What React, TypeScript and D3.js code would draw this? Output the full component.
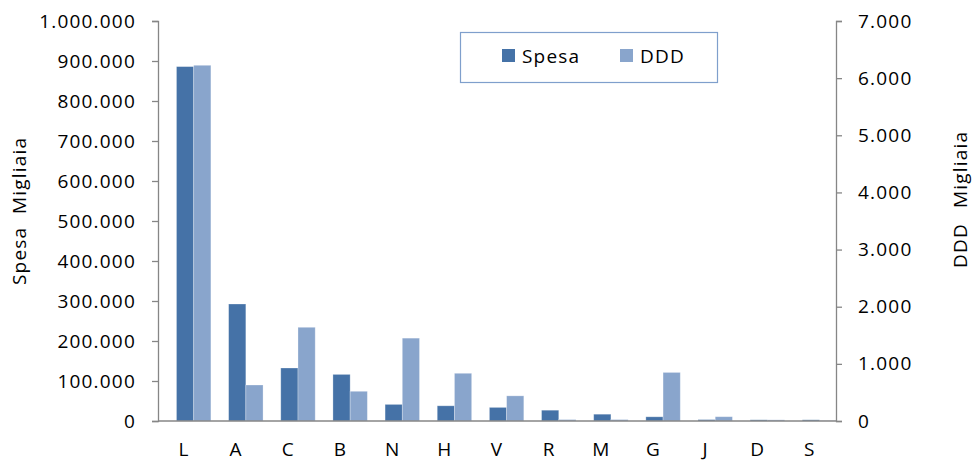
import { useEffect, useRef } from "react";
import * as d3 from "d3";

// categorie (classi ATC) e valori in migliaia
const categories = ["L", "A", "C", "B", "N", "H", "V", "R", "M", "G", "J", "D", "S"];
const spesa = [886000, 292500, 132500, 116500, 41500, 38000, 34000, 27000, 17000, 10500, 3500, 3000, 3000];
const ddd = [6225, 630, 1640, 520, 1450, 835, 440, 25, 25, 850, 75, 20, 5];
const leftTicks = d3.range(0, 1000001, 100000);
const rightTicks = d3.range(0, 7001, 1000);
const seriesNames = ["Spesa", "DDD"];

const COL_SPESA = "#4572A7";
const COL_DDD = "#89A5CC";
const AXIS = "#868686";
const FONT = "'Open Sans', sans-serif";
const FS = "19px";
const LS = "1.2px";

export default function App() {
  const ref = useRef<SVGSVGElement | null>(null);

  useEffect(() => {
    if (!ref.current) return;
    const svg = d3.select(ref.current);
    svg.selectAll("*").remove();

    const width = 973;
    const height = 462;
    const margin = { top: 21, right: 137, bottom: 41, left: 158 };

    const it = d3.formatLocale({ decimal: ",", thousands: ".", grouping: [3], currency: ["", ""] });
    const fmt = it.format(",.0f");

    const x = d3.scaleBand<string>()
      .domain(categories)
      .range([margin.left, width - margin.right]);

    const yL = d3.scaleLinear()
      .domain([0, 1000000])
      .range([height - margin.bottom, margin.top]);

    const yR = d3.scaleLinear()
      .domain([0, 7000])
      .range([height - margin.bottom, margin.top]);

    const bw = x.bandwidth() * 0.33;
    const base = height - margin.bottom;

    const txt = (sel: any) =>
      sel.style("font-family", FONT).style("font-size", FS).style("letter-spacing", LS).attr("fill", "#000");

    // barre Spesa (asse sinistro)
    svg.append("g")
      .selectAll("rect")
      .data(spesa)
      .join("rect")
      .attr("x", (_, i) => x(categories[i])! + x.bandwidth() / 2 - bw / 2 + 1)
      .attr("y", d => yL(d))
      .attr("width", bw)
      .attr("height", d => base - yL(d))
      .attr("fill", COL_SPESA)
      .attr("stroke", "#ffffff")
      .attr("stroke-opacity", 0.35)
      .attr("stroke-width", 0.8);

    // barre DDD (asse destro)
    svg.append("g")
      .selectAll("rect")
      .data(ddd)
      .join("rect")
      .attr("x", (_, i) => x(categories[i])! + x.bandwidth() / 2 + bw / 2 + 1)
      .attr("y", d => yR(d))
      .attr("width", bw)
      .attr("height", d => base - yR(d))
      .attr("fill", COL_DDD)
      .attr("stroke", "#ffffff")
      .attr("stroke-opacity", 0.35)
      .attr("stroke-width", 0.8);

    // asse sinistro
    const gl = svg.append("g")
      .attr("transform", `translate(${margin.left},0)`)
      .call(d3.axisLeft(yL).tickValues(leftTicks).tickFormat(d => fmt(d as number)).tickSize(6).tickPadding(16));
    // asse destro
    const gr = svg.append("g")
      .attr("transform", `translate(${width - margin.right},0)`)
      .call(d3.axisRight(yR).tickValues(rightTicks).tickFormat(d => fmt(d as number)).tickSize(6).tickPadding(16));
    // asse x
    const gx = svg.append("g")
      .attr("transform", `translate(0,${base})`)
      .call(d3.axisBottom(x).tickSize(0).tickPadding(22));

    [gl, gr, gx].forEach(g => {
      g.select(".domain").attr("stroke", AXIS).attr("stroke-width", 1.3);
      g.selectAll(".tick line").attr("stroke", AXIS).attr("stroke-width", 1.3);
      txt(g.selectAll("text"));
    });
    gx.select(".domain").attr("d", `M${margin.left},0H${width - margin.right}`);

    // titoli assi
    txt(svg.append("text").attr("transform", "translate(26,285) rotate(-90)").text("Spesa"));
    txt(svg.append("text").attr("transform", "translate(26,214) rotate(-90)").text("Migliaia"));
    txt(svg.append("text").attr("transform", "translate(967,268) rotate(-90)").text("DDD"));
    txt(svg.append("text").attr("transform", "translate(967,208) rotate(-90)").text("Migliaia"));

    // legenda
    const lg = svg.append("g");
    lg.append("rect")
      .attr("x", 460.5)
      .attr("y", 32.5)
      .attr("width", 257)
      .attr("height", 50)
      .attr("fill", "#fff")
      .attr("stroke", "#7F9FCC")
      .attr("stroke-width", 1.2);
    const items = lg.selectAll("g.item")
      .data(seriesNames)
      .join("g")
      .attr("transform", (_, i) => `translate(${502 + i * 118},49)`);
    items.append("rect")
      .attr("width", 13)
      .attr("height", 13)
      .attr("fill", (_, i) => (i === 0 ? COL_SPESA : COL_DDD));
    txt(items.append("text").attr("x", 20).attr("y", 14).text(d => d));
  }, []);

  return (
    <svg
      ref={ref}
      width={973}
      height={462}
      style={{ position: "absolute", left: 0, top: 0, background: "#fff" }}
    />
  );
}
